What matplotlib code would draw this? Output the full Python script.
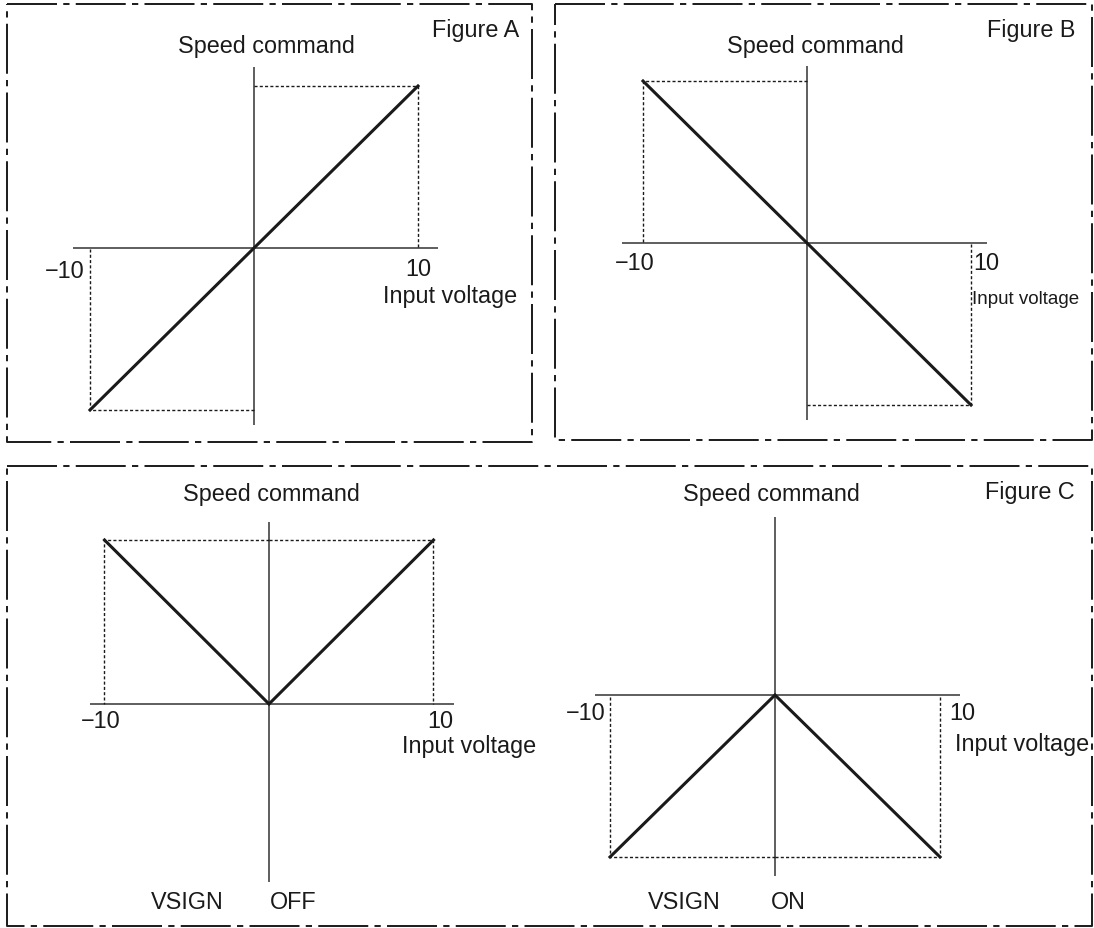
import matplotlib
matplotlib.use("Agg")
import matplotlib.pyplot as plt

plt.rcParams['font.family'] = ['Liberation Sans', 'DejaVu Sans']
plt.rcParams['lines.scale_dashes'] = False

# data: input voltage vs speed command (normalised)
voltage = [-10, 0, 10]
speed_a = [-1, 0, 1]      # Figure A
speed_b = [1, 0, -1]      # Figure B
speed_c_off = [1, 0, 1]   # Figure C, VSIGN OFF
speed_c_on = [-1, 0, -1]  # Figure C, VSIGN ON
tick_labels = ['\u221210', '10']

W, H = 1094, 929
fig = plt.figure(figsize=(W / 100, H / 100), dpi=100)

INK = '#1a1a1a'
AXIS = '#333333'
FS = 16.8


def panel_axes(ox, oy, sx, sy):
    # axes spanning the figure, data origin placed at pixel (ox, oy)
    ax = fig.add_axes([0, 0, 1, 1])
    ax.set_xlim(-ox / sx, (W - ox) / sx)
    ax.set_ylim((oy - H) / sy, oy / sy)
    ax.axis('off')
    ax.patch.set_alpha(0)
    return ax


def draw_panel(ax, x, y, xext, yext):
    ax.plot(xext, [0, 0], color=AXIS, lw=1.1, solid_capstyle='butt')
    ax.plot([0, 0], yext, color=AXIS, lw=1.1, solid_capstyle='butt')
    for xi, yi in zip(x, y):
        if xi == 0:
            continue
        ax.plot([0, xi, xi], [yi, yi, 0], color=INK, lw=1.0,
                linestyle=(0, (2.2, 1.6)))
    ax.plot(x, y, color=INK, lw=2.2, solid_joinstyle='miter')


def label(x, y, s, ha='center', size=FS):
    fig.text(x / W, 1 - y / H, s, ha=ha, va='center', fontsize=size, color=INK)


# Figure A
ax_a = panel_axes(254, 249, 16.4, 162)
draw_panel(ax_a, voltage, speed_a, [-11.05, 11.2], [-1.09, 1.12])
label(266, 47, 'Speed command')
label(519, 30, 'Figure A', ha='right')
label(65, 271, tick_labels[0])
label(418, 269, tick_labels[1])
label(450, 297, 'Input voltage')

# Figure B
ax_b = panel_axes(807, 244, 16.4, 162)
draw_panel(ax_b, voltage, speed_b, [-11.3, 11.0], [-1.09, 1.09])
label(815, 47, 'Speed command')
label(1075, 30, 'Figure B', ha='right')
label(635, 264, tick_labels[0])
label(986, 264, tick_labels[1])
label(1026, 299, 'Input voltage', size=13.5)

# Figure C, VSIGN OFF
ax_c1 = panel_axes(269, 705, 16.45, 164)
draw_panel(ax_c1, voltage, speed_c_off, [-10.9, 11.25], [-1.085, 1.11])
label(271, 495, 'Speed command')
label(101, 722, tick_labels[0])
label(440, 722, tick_labels[1])
label(469, 747, 'Input voltage')
label(187, 903, 'VSIGN')
label(293, 903, 'OFF')

# Figure C, VSIGN ON
ax_c2 = panel_axes(775, 696, 16.5, 162)
draw_panel(ax_c2, voltage, speed_c_on, [-10.9, 11.2], [-1.12, 1.1])
label(771, 495, 'Speed command')
label(1075, 493, 'Figure C', ha='right')
label(586, 713, tick_labels[0])
label(962, 713, tick_labels[1])
label(1022, 745, 'Input voltage')
label(684, 903, 'VSIGN')
label(788, 903, 'ON')

# dash-dot frames around the figures
frame = fig.add_axes([0, 0, 1, 1])
frame.set_xlim(0, W)
frame.set_ylim(H, 0)
frame.axis('off')
frame.patch.set_alpha(0)
boxes = [(7, 5, 532, 443), (555, 5, 1092, 441), (7, 467, 1092, 927)]
for x0, y0, x1, y1 in boxes:
    frame.plot([x0, x1, x1, x0, x0], [y0, y0, y1, y1, y0], color=INK,
               lw=1.4, linestyle=(0, (36, 4.5, 4.5, 4.5)))

fig.savefig('out.png', dpi=100)
